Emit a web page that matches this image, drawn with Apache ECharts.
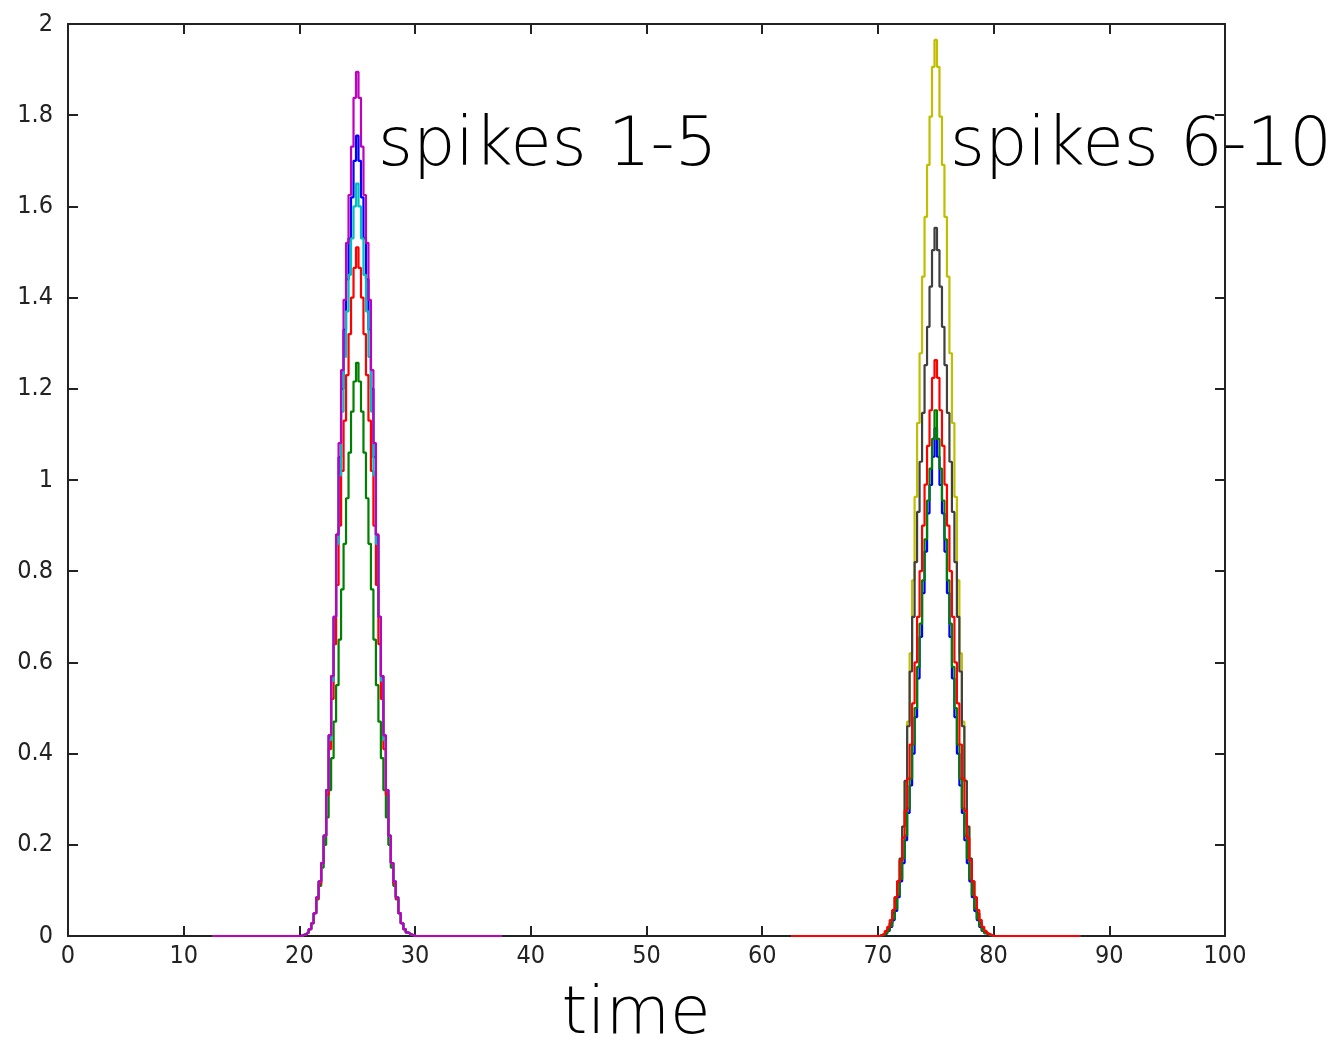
<!DOCTYPE html>
<html>
<head>
<meta charset="utf-8">
<title>spikes</title>
<script src="https://cdn.jsdelivr.net/npm/echarts@6/dist/echarts.min.js"></script>
<style>
  html, body { margin: 0; padding: 0; background: #fff; }
  #chart { width: 1343px; height: 1041px; }
</style>
</head>
<body>
<div id="chart"></div>
<script>
// stair width of each spike (x units), spike centres and zero-line spans
const binWidth = 0.215;
const spikeCenters = [25, 25, 25, 25, 25, 75, 75, 75, 75, 75];
const spanStart = [12.5, 12.5, 12.5, 12.5, 12.5, 62.5, 62.5, 62.5, 62.5, 62.5];
const spanEnd = [37.5, 37.5, 37.5, 37.5, 37.5, 87.5, 87.5, 87.5, 87.5, 87.5];

// half profiles: value at 0, 1, 2 ... stairs from the centre
const spike1 = [1.755, 1.70, 1.62, 1.53, 1.44, 1.33, 1.20, 1.05, 0.88, 0.70, 0.57, 0.44, 0.32, 0.22, 0.16, 0.12, 0.085, 0.05, 0.028, 0.015, 0.008, 0.004, 0.002, 0];
const spike2 = [1.257, 1.216, 1.15, 1.06, 0.96, 0.86, 0.76, 0.65, 0.55, 0.47, 0.39, 0.32, 0.26, 0.20, 0.15, 0.11, 0.08, 0.05, 0.028, 0.015, 0.008, 0.004, 0.002, 0];
const spike3 = [1.51, 1.465, 1.40, 1.32, 1.23, 1.13, 1.02, 0.90, 0.77, 0.64, 0.52, 0.41, 0.31, 0.22, 0.16, 0.115, 0.082, 0.05, 0.028, 0.015, 0.008, 0.004, 0.002, 0];
const spike4 = [1.65, 1.60, 1.53, 1.45, 1.37, 1.27, 1.15, 1.01, 0.86, 0.70, 0.56, 0.43, 0.32, 0.22, 0.16, 0.12, 0.085, 0.05, 0.028, 0.015, 0.008, 0.004, 0.002, 0];
const spike5 = [1.895, 1.838, 1.731, 1.625, 1.52, 1.395, 1.241, 1.081, 0.88, 0.70, 0.57, 0.44, 0.32, 0.22, 0.16, 0.12, 0.085, 0.05, 0.028, 0.015, 0.008, 0.004, 0.002, 0];
const spike6 = [1.965, 1.906, 1.797, 1.691, 1.577, 1.446, 1.278, 1.125, 0.963, 0.78, 0.62, 0.47, 0.34, 0.24, 0.17, 0.12, 0.085, 0.05, 0.028, 0.015, 0.008, 0.004, 0.002, 0];
const spike7 = [1.553, 1.504, 1.424, 1.336, 1.252, 1.147, 1.04, 0.93, 0.82, 0.70, 0.58, 0.46, 0.34, 0.24, 0.17, 0.12, 0.085, 0.05, 0.028, 0.015, 0.008, 0.004, 0.002, 0];
const spike8 = [1.113, 1.051, 0.989, 0.927, 0.843, 0.752, 0.656, 0.565, 0.48, 0.40, 0.33, 0.27, 0.21, 0.16, 0.12, 0.085, 0.055, 0.035, 0.02, 0.011, 0.006, 0.003, 0.001, 0];
const spike9 = [1.153, 1.09, 1.025, 0.955, 0.87, 0.78, 0.685, 0.59, 0.50, 0.42, 0.345, 0.28, 0.22, 0.17, 0.125, 0.09, 0.06, 0.038, 0.022, 0.012, 0.006, 0.003, 0.001, 0];
const spike10 = [1.263, 1.224, 1.153, 1.075, 0.99, 0.90, 0.80, 0.70, 0.60, 0.51, 0.42, 0.345, 0.275, 0.215, 0.165, 0.12, 0.085, 0.057, 0.035, 0.02, 0.011, 0.005, 0.002, 0];

const spikes = [spike1, spike2, spike3, spike4, spike5, spike6, spike7, spike8, spike9, spike10];
// matlab default colour order, cycling
const spikeColors = ['#0000ff', '#008000', '#ff0000', '#00bfbf', '#bf00bf', '#bfbf00', '#404040', '#0000ff', '#008000', '#ff0000'];

const xTicks = { min: 0, max: 100, interval: 10 };
const yTicks = { min: 0, max: 2, interval: 0.2 };

// mirror a half profile round its centre, as [x, y] stair points (left edge of each stair)
function stairPoints(i) {
  const half = spikes[i];
  const c = spikeCenters[i];
  const n = half.length - 1;
  const pts = [[spanStart[i], 0]];
  for (let k = -n; k <= n; k++) {
    pts.push([c + (k - 0.5) * binWidth, half[Math.abs(k)]]);
  }
  pts.push([c + (n + 0.5) * binWidth, 0]);
  pts.push([spanEnd[i], 0]);
  return pts;
}

const axisColor = '#222';
const labelFont = { fontSize: 25, fontFamily: 'DejaVu Sans Condensed', color: '#222' };
const noteFont = 'DejaVu Sans';

function frameAxis(pos, ticks, showLabel, margin) {
  return {
    type: 'value',
    position: pos,
    min: ticks.min,
    max: ticks.max,
    interval: ticks.interval,
    axisLine: { show: true, onZero: false, lineStyle: { color: axisColor, width: 2 } },
    axisTick: { show: true, inside: true, length: 10, lineStyle: { color: axisColor, width: 2 } },
    axisLabel: Object.assign({ show: showLabel, margin: margin }, labelFont),
    splitLine: { show: false }
  };
}

const chart = echarts.init(document.getElementById('chart'), null, { renderer: 'canvas' });

chart.setOption({
  animation: false,
  backgroundColor: '#fff',
  grid: { left: 68, top: 24, width: 1157, height: 912, containLabel: false },
  xAxis: [frameAxis('bottom', xTicks, true, 8), frameAxis('top', xTicks, false, 8)],
  yAxis: [frameAxis('left', yTicks, true, 15), frameAxis('right', yTicks, false, 15)],
  series: spikes.map((s, i) => ({
    type: 'line',
    step: 'end',
    xAxisIndex: 0,
    yAxisIndex: 0,
    showSymbol: false,
    symbol: 'none',
    silent: true,
    data: stairPoints(i),
    lineStyle: { color: spikeColors[i], width: 2.2 },
    z: 2 + i
  })),
  graphic: [
    {
      type: 'text', z: 100,
      style: { text: 'spikes 1-5', x: 378, y: 148, fontSize: 67, fontWeight: 300, fontFamily: noteFont, fill: '#000', align: 'left', verticalAlign: 'middle' }
    },
    {
      type: 'text', z: 100,
      style: { text: 'spikes 6-10', x: 950, y: 148, fontSize: 67, fontWeight: 300, fontFamily: noteFont, fill: '#000', align: 'left', verticalAlign: 'middle' }
    },
    {
      type: 'text', z: 100,
      style: { text: 'time', x: 636, y: 1016, fontSize: 66, fontWeight: 300, fontFamily: noteFont, fill: '#000', align: 'center', verticalAlign: 'middle' }
    }
  ]
});
</script>
</body>
</html>
